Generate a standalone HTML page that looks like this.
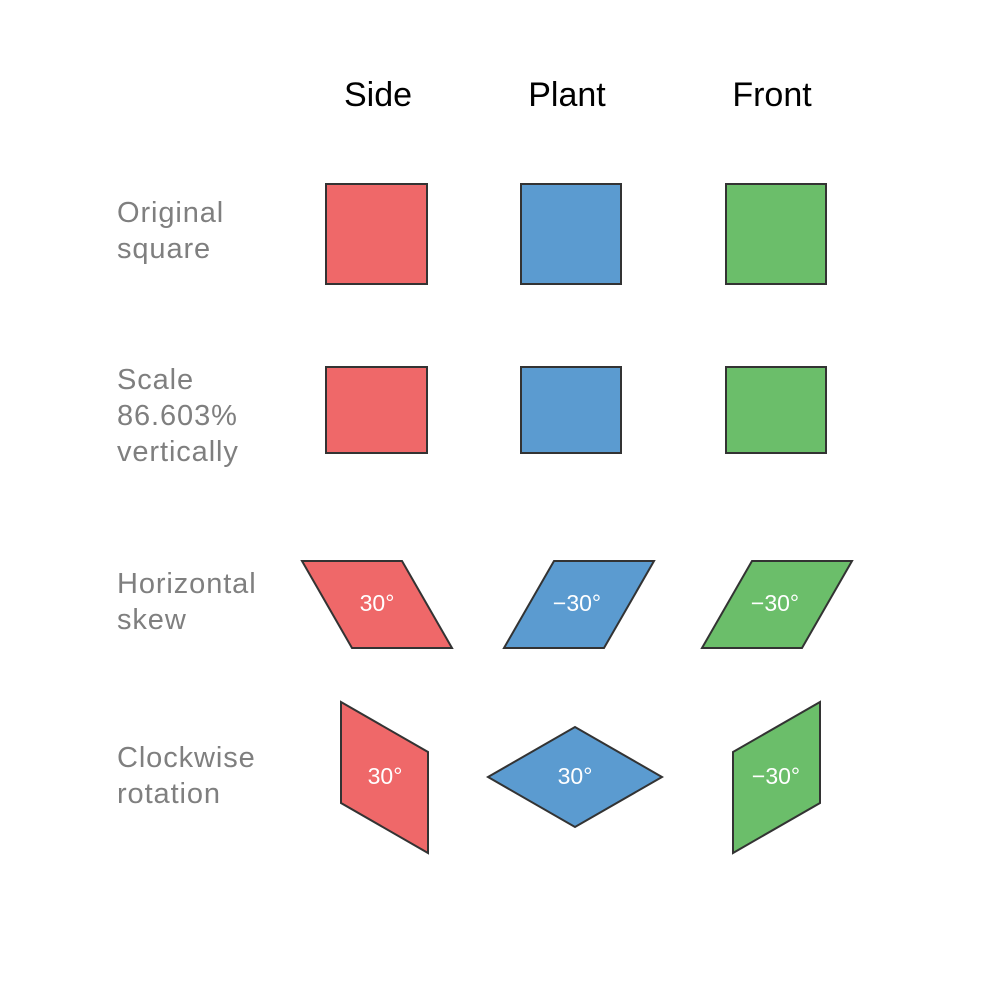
<!DOCTYPE html>
<html><head><meta charset="utf-8"><style>
html,body{margin:0;padding:0;background:#fff;}
svg{display:block;font-family:"Liberation Sans",sans-serif;}
.h{font-size:34px;fill:#000;text-anchor:middle;}
.l{font-size:29px;fill:#7f7f7f;letter-spacing:0.9px;}
.r{fill:#ef6869;}.b{fill:#5b9bd0;}.g{fill:#6bbe6a;}
polygon,rect{stroke:#333;stroke-width:2;}
.t{font-size:23px;fill:#fff;text-anchor:middle;dominant-baseline:middle;}
</style></head><body>
<svg width="1000" height="1000" viewBox="0 0 1000 1000">
<text class="h" x="378" y="106">Side</text>
<text class="h" x="567" y="106">Plant</text>
<text class="h" x="772" y="106">Front</text>

<text class="l" x="117" y="222"><tspan x="117">Original</tspan><tspan x="117" dy="36">square</tspan></text>
<text class="l" x="117" y="389"><tspan x="117">Scale</tspan><tspan x="117" dy="36">86.603%</tspan><tspan x="117" dy="36">vertically</tspan></text>
<text class="l" x="117" y="593"><tspan x="117">Horizontal</tspan><tspan x="117" dy="36">skew</tspan></text>
<text class="l" x="117" y="767"><tspan x="117">Clockwise</tspan><tspan x="117" dy="36">rotation</tspan></text>

<rect class="r" x="326" y="184" width="101" height="100"/>
<rect class="b" x="521" y="184" width="100" height="100"/>
<rect class="g" x="726" y="184" width="100" height="100"/>

<rect class="r" x="326" y="367" width="101" height="86"/>
<rect class="b" x="521" y="367" width="100" height="86"/>
<rect class="g" x="726" y="367" width="100" height="86"/>

<polygon class="r" points="302,561 402,561 452,648 352,648"/>
<text class="t" x="377" y="605">30°</text>
<polygon class="b" points="554,561 654,561 604,648 504,648"/>
<text class="t" x="577" y="605">−30°</text>
<polygon class="g" points="752,561 852,561 802,648 702,648"/>
<text class="t" x="775" y="605">−30°</text>

<polygon class="r" points="341,702 428,752 428,853 341,803"/>
<text class="t" x="385" y="778">30°</text>
<polygon class="b" points="488,777 575,727 662,777 575,827"/>
<text class="t" x="575" y="778">30°</text>
<polygon class="g" points="733,752 820,702 820,803 733,853"/>
<text class="t" x="776" y="778">−30°</text>
</svg>
</body></html>
